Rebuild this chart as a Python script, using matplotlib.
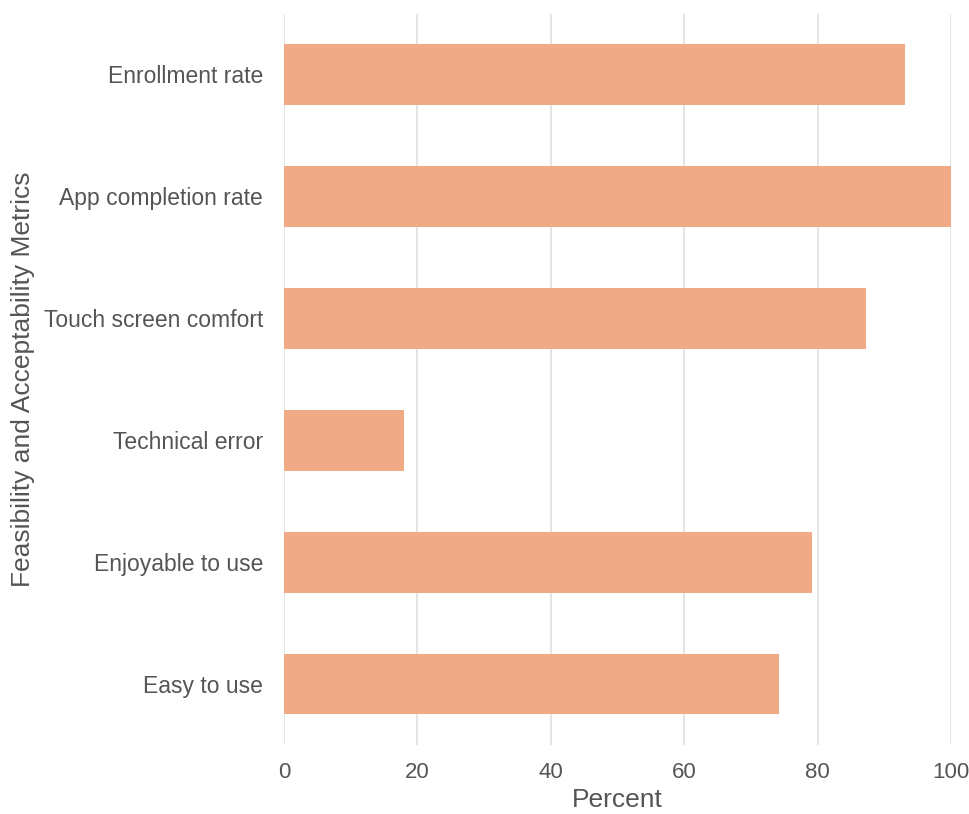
import matplotlib
matplotlib.use("Agg")
import matplotlib.pyplot as plt

plt.rcParams['font.family'] = ['Liberation Sans', 'DejaVu Sans']

metrics = ["Easy to use", "Enjoyable to use", "Technical error",
           "Touch screen comfort", "App completion rate", "Enrollment rate"]
percent = [74.2, 79.2, 18.0, 87.2, 100.0, 93.1]

text_col = "#555555"
bar_col = "#F0AA86"

fig = plt.figure(figsize=(9.69, 8.14), dpi=100)
ax = fig.add_axes([0.2931, 0.0848, 0.6883, 0.8986])

ax.barh(range(len(metrics)), percent, height=0.5, color=bar_col, zorder=2)

ax.set_xlim(0, 100)
ax.set_ylim(-0.5, len(metrics) - 0.5)
ax.set_xticks([0, 20, 40, 60, 80, 100])
ax.set_yticks(range(len(metrics)))
ax.set_yticklabels(metrics)

ax.grid(axis="x", color="#e0e0e0", linewidth=1.2, zorder=0)
for s in ax.spines.values():
    s.set_visible(False)

ax.tick_params(axis="y", length=0, pad=15, labelsize=16.5, labelcolor=text_col)
ax.tick_params(axis="x", length=0, pad=12, labelsize=16, labelcolor=text_col)

ax.set_xlabel("Percent", fontsize=19, color=text_col, labelpad=4)
ax.set_ylabel("Feasibility and Acceptability Metrics", fontsize=19, color=text_col, labelpad=6)

fig.savefig("out.png", dpi=100)
